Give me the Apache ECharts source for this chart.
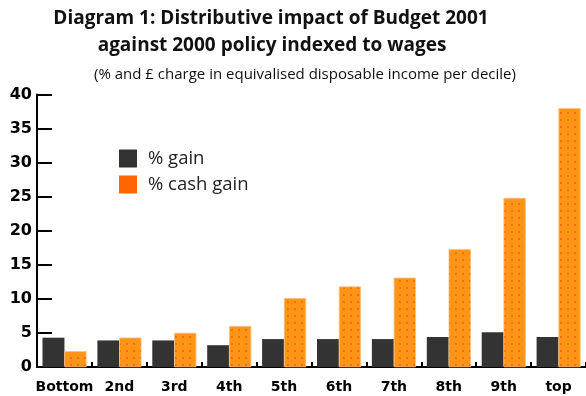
<!DOCTYPE html>
<html>
<head>
<meta charset="utf-8">
<script src="https://cdn.jsdelivr.net/npm/echarts@6/dist/echarts.min.js"></script>
<style>
html,body{margin:0;padding:0;background:#fff;}
#chart{width:586px;height:396px;}
</style>
</head>
<body>
<div id="chart"></div>
<script>
var categories = ['Bottom', '2nd', '3rd', '4th', '5th', '6th', '7th', '8th', '9th', 'top'];
var gainValues = [4.3, 3.9, 3.9, 3.2, 4.1, 4.1, 4.1, 4.4, 5.1, 4.4];
var cashGainValues = [2.3, 4.3, 5.0, 6.0, 10.1, 11.8, 13.1, 17.3, 24.8, 38.0];
var yTicks = [0, 5, 10, 15, 20, 25, 30, 35, 40];
var titleLine1 = 'Diagram 1: Distributive impact of Budget 2001';
var titleLine2 = 'against 2000 policy indexed to wages';
var subtitleText = '(% and £ charge in equivalised disposable income per decile)';

var chart = echarts.init(document.getElementById('chart'));
var titleFont = '"Open Sans", "DejaVu Sans", sans-serif';
var axisFont = '"DejaVu Sans", sans-serif';
chart.setOption({
  animation: false,
  backgroundColor: '#ffffff',
  title: [
    { text: titleLine1, left: 266, top: 4, textAlign: 'center',
      textStyle: { fontFamily: titleFont, fontWeight: 'bold', fontSize: 19, color: '#111' } },
    { text: titleLine2, left: 267, top: 31, textAlign: 'center',
      textStyle: { fontFamily: titleFont, fontWeight: 'bold', fontSize: 19, color: '#111' } },
    { text: subtitleText, left: 300, top: 62, textAlign: 'center',
      textStyle: { fontFamily: titleFont, fontWeight: 'normal', fontSize: 15, color: '#111' } }
  ],
  legend: {
    orient: 'vertical',
    left: 114,
    top: 144,
    itemWidth: 18,
    itemHeight: 18,
    itemGap: 7,
    textStyle: { fontFamily: titleFont, fontSize: 18.5, color: '#222', padding: [0, 0, 0, 6] },
    data: [
      { name: '% gain', icon: 'rect', itemStyle: { color: '#333333', borderWidth: 0 } },
      { name: '% cash gain', icon: 'rect', itemStyle: { color: '#FF6600', borderWidth: 0, decal: 'none' } }
    ]
  },
  grid: { left: 37, right: 0, top: 94.5, bottom: 29, containLabel: false },
  xAxis: {
    type: 'category',
    data: categories,
    axisLine: { show: true, lineStyle: { color: '#000', width: 2 } },
    axisTick: { show: true, inside: true, length: 5, interval: 0, lineStyle: { color: '#000', width: 2 } },
    axisLabel: { interval: 0, fontFamily: axisFont, fontWeight: 'bold', fontSize: 14, color: '#000', margin: 13 }
  },
  yAxis: {
    type: 'value',
    min: 0, max: 40, interval: 5,
    axisLine: { show: true, lineStyle: { color: '#000', width: 2 } },
    axisTick: { show: true, inside: true, length: 15, lineStyle: { color: '#000', width: 2 } },
    splitLine: { show: false },
    axisLabel: {
      fontFamily: axisFont, fontWeight: 'bold', fontSize: 16, color: '#000', margin: 5,
      padding: [4, 0, 0, 0],
      formatter: function (v) { return yTicks.indexOf(v) >= 0 ? String(v) : ''; }
    }
  },
  series: [
    { name: '% gain', type: 'bar', data: gainValues, barGap: '0%', barCategoryGap: '20%',
      itemStyle: { color: '#333333' } },
    { name: '% cash gain', type: 'bar', data: cashGainValues, barGap: '0%', barCategoryGap: '20%',
      itemStyle: { color: '#FF9416', borderColor: '#FFC080', borderWidth: 0.5,
        decal: { symbol: 'circle', symbolSize: 1, color: 'rgba(235,60,0,0.55)', dashArrayX: [2, 5], dashArrayY: [2, 5] } } }
  ]
});
</script>
</body>
</html>
